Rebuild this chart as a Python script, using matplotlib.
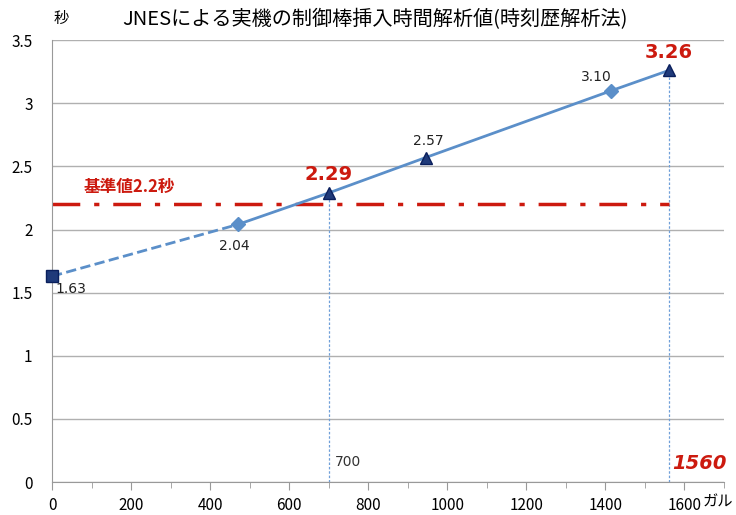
import matplotlib.pyplot as plt
from matplotlib.ticker import MultipleLocator

plt.rcParams['font.family'] = ['Noto Sans CJK JP', 'DejaVu Sans']

# analysis results: acceleration (gal) vs insertion time (s)
gal = [0, 470, 700, 945, 1415, 1560]
sec = [1.63, 2.04, 2.29, 2.57, 3.10, 3.26]
labels = ['1.63', '2.04', '2.29', '2.57', '3.10', '3.26']
markers = ['s', 'D', '^', '^', 'D', '^']
base_value = 2.2
check_gal = [700, 1560]
yticks = [0, 0.5, 1, 1.5, 2, 2.5, 3, 3.5]
ytick_labels = ['0', '0.5', '1', '1.5', '2', '2.5', '3', '3.5']

line_c = '#5b8fc9'
navy = '#1f3a7a'
red = '#cc1a0f'

fig = plt.figure(figsize=(7.36, 5.15), dpi=100)
ax = fig.add_axes([0.0707, 0.064, 0.913, 0.858])

# extrapolated part dashed, rest solid
ax.plot(gal[:2], sec[:2], ls='--', color=line_c, lw=2, zorder=3)
ax.plot(gal[1:], sec[1:], ls='-', color=line_c, lw=2, zorder=3)
for x, y, m in zip(gal, sec, markers):
    fc = line_c if m == 'D' else navy
    ax.plot(x, y, marker=m, ms=8 if m != 'D' else 7, color=fc,
            mec=fc if m == 'D' else '#0a1f5c', zorder=4, clip_on=False)

# reference level
ax.plot([0, 1560], [base_value, base_value], color=red, lw=2.5,
        dashes=(8, 4, 1.5, 4), zorder=2)
ax.text(80, base_value + 0.1, '基準値2.2秒', color=red, fontsize=12,
        fontweight='bold')

for gx in check_gal:
    y = sec[gal.index(gx)]
    ax.plot([gx, gx], [0, y], color='#6f9fd8', lw=0.9, ls=(0, (2, 1.5)), zorder=1)

# point labels
ax.text(gal[0] + 8, sec[0] - 0.13, labels[0], fontsize=10, color='#222222',
        family='DejaVu Sans')
ax.text(gal[1] - 10, sec[1] - 0.2, labels[1], fontsize=10, color='#222222',
        ha='center', family='DejaVu Sans')
ax.text(gal[3] + 8, sec[3] + 0.1, labels[3], fontsize=10, color='#222222',
        ha='center', family='DejaVu Sans')
ax.text(gal[4], sec[4] + 0.08, labels[4], fontsize=10, color='#222222',
        ha='right', family='DejaVu Sans')
ax.text(gal[2], sec[2] + 0.1, labels[2], fontsize=14, color=red,
        fontweight='bold', ha='center', family='DejaVu Sans')
ax.text(gal[5], sec[5] + 0.1, labels[5], fontsize=14, color=red,
        fontweight='bold', ha='center', family='DejaVu Sans')
ax.text(715, 0.13, '700', fontsize=10, color='#333333', family='DejaVu Sans')
ax.text(1568, 0.1, '1560', fontsize=14, color=red, fontweight='bold',
        style='italic', family='DejaVu Sans')

ax.set_xlim(0, 1700)
ax.set_ylim(0, 3.5)
ax.set_xticks(range(0, 1601, 200))
ax.xaxis.set_minor_locator(MultipleLocator(100))
ax.set_yticks(yticks)
ax.set_yticklabels(ytick_labels)
ax.grid(axis='y', color='#b0b0b0', lw=1)
ax.set_axisbelow(True)
for s in ['top', 'right']:
    ax.spines[s].set_visible(False)
ax.spines['left'].set_color('#999999')
ax.spines['bottom'].set_color('#999999')
ax.tick_params(axis='x', which='both', direction='out', color='#999999',
               labelsize=11, pad=5)
ax.tick_params(axis='x', which='major', length=6)
ax.tick_params(axis='x', which='minor', length=4)
ax.tick_params(axis='y', length=0, labelsize=11, pad=14)

fig.text(0.083, 0.965, '秒', fontsize=11, ha='center', va='center')
fig.text(0.975, 0.008, 'ガル', fontsize=11, ha='center', va='bottom')
fig.text(0.51, 0.962, 'JNESによる実機の制御棒挿入時間解析値(時刻歴解析法)',
         fontsize=14.5, ha='center', va='center')

fig.savefig('out.png', dpi=100)
